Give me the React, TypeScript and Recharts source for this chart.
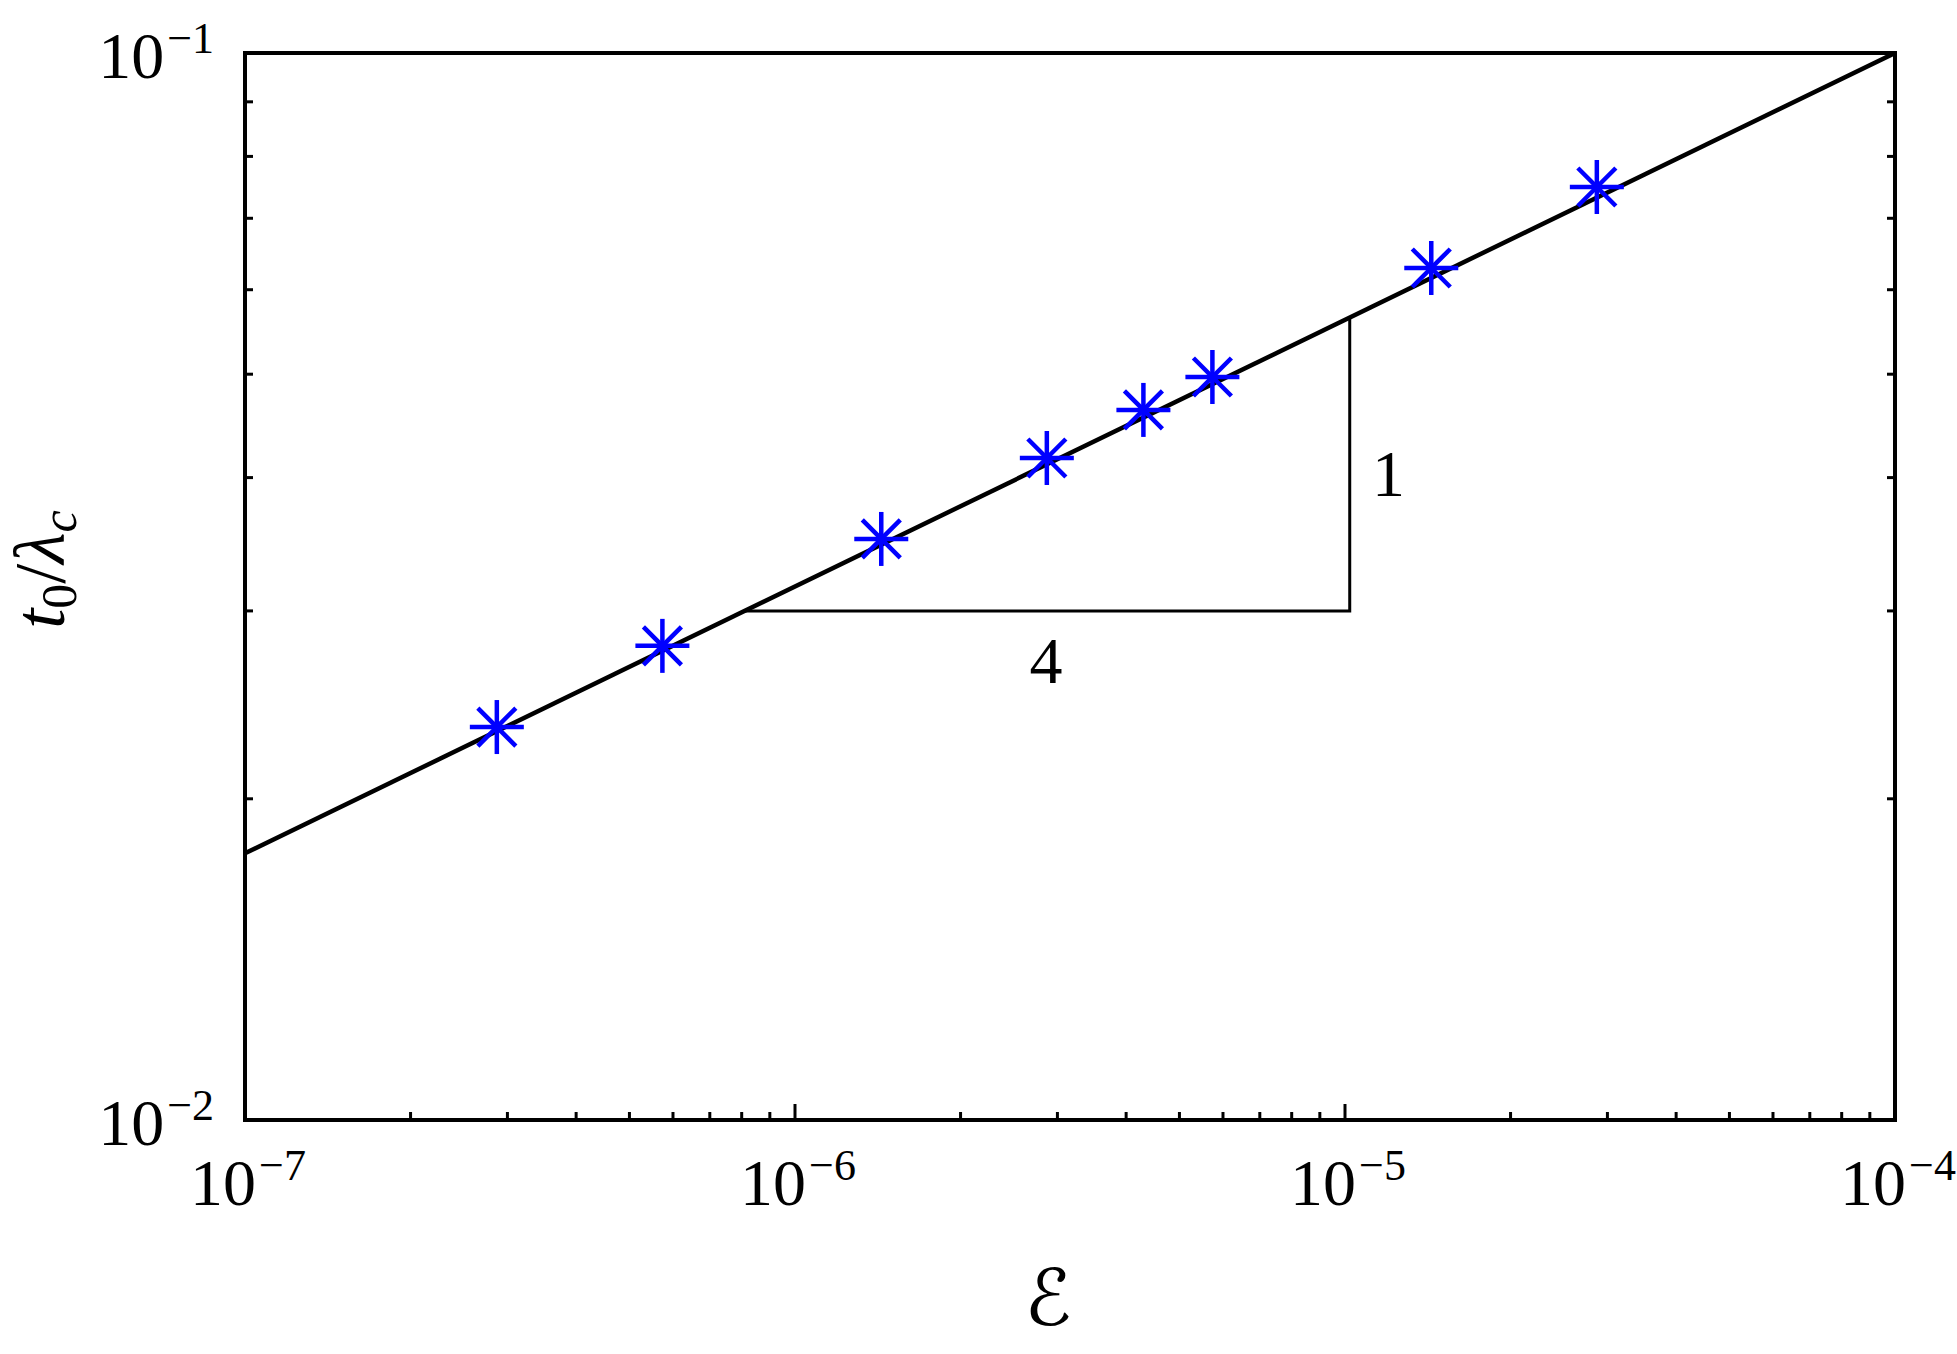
import React from "react";
import { ComposedChart, Scatter, XAxis, YAxis } from "recharts";

// measured points (epsilon, t0/lambda_c)
const epsValues = [2.87e-7, 5.74e-7, 1.435e-6, 2.87e-6, 4.3e-6, 5.74e-6, 1.435e-5, 2.87e-5];
const tValues = [0.02335, 0.02782, 0.03504, 0.04173, 0.04629, 0.0497, 0.06288, 0.07489];

// slope-1/4 fit line end points
const fitEps = [1e-7, 1e-4];
const fitT = [0.01778, 0.1];

// slope triangle corners
const triEps = [8.1e-7, 1.02e-5, 1.02e-5];
const triT = [0.03, 0.03, 0.0565];

// triangle annotations
const noteText = ["1", "4"];
const noteEps = [1.2e-5, 2.86e-6];
const noteT = [0.0403, 0.0269];

const xDecades = [1e-7, 1e-6, 1e-5, 1e-4];
const yDecades = [0.01, 0.1];
const mantissas = [1, 2, 3, 4, 5, 6, 7, 8, 9];

const points = epsValues.map((x, i) => ({ x, y: tValues[i] }));
const fit = fitEps.map((x, i) => ({ x, y: fitT[i] }));
const triangle = triEps.map((x, i) => ({ x, y: triT[i] }));
const notes = noteText.map((text, i) => ({ x: noteEps[i], y: noteT[i], text }));

const buildTicks = (decades: number[]) => {
  const out: number[] = [];
  decades.forEach((d, i) => {
    if (i === decades.length - 1) out.push(d);
    else mantissas.forEach((m) => out.push(+(m * d).toPrecision(3)));
  });
  return out;
};
const xTicks = buildTicks(xDecades);
const yTicks = buildTicks(yDecades);

const FONT = "'Liberation Serif', 'Times New Roman', serif";

const isMajor = (v: number) => {
  const l = Math.log10(v);
  return Math.abs(l - Math.round(l)) < 1e-6;
};

const PowerLabel = ({ x, y, v, anchor }: any) => (
  <text x={x} y={y} textAnchor={anchor} fontFamily={FONT} fontSize={66} fill="#000">
    10
    <tspan fontSize={44} dy={-25} dx={3}>
      {"\u2212" + Math.abs(Math.round(Math.log10(v)))}
    </tspan>
  </text>
);

const XTick = (props: any) => {
  const { x, y, payload, side } = props;
  const v = payload.value;
  const major = isMajor(v);
  const len = major ? 16 : 8;
  const dir = side === "bottom" ? -1 : 1;
  return (
    <g>
      <line x1={x} y1={y} x2={x} y2={y + dir * len} stroke="#000" strokeWidth={3} />
      {side === "bottom" && major && <PowerLabel x={x + 3} y={y + 85} v={v} anchor="middle" />}
    </g>
  );
};

const YTick = (props: any) => {
  const { x, y, payload, side } = props;
  const v = payload.value;
  const major = isMajor(v);
  const len = major ? 16 : 8;
  const dir = side === "left" ? 1 : -1;
  return (
    <g>
      <line x1={x} y1={y} x2={x + dir * len} y2={y} stroke="#000" strokeWidth={3} />
      {side === "left" && major && <PowerLabel x={x - 31} y={y + 25} v={v} anchor="end" />}
    </g>
  );
};

const Asterisk = (props: any) => {
  const { cx, cy } = props;
  const r = 27;
  const d = 19;
  const s = { stroke: "#0000FF", strokeWidth: 4.5 };
  return (
    <g>
      <line x1={cx - r} y1={cy} x2={cx + r} y2={cy} {...s} />
      <line x1={cx} y1={cy - r} x2={cx} y2={cy + r} {...s} />
      <line x1={cx - d} y1={cy - d} x2={cx + d} y2={cy + d} {...s} />
      <line x1={cx - d} y1={cy + d} x2={cx + d} y2={cy - d} {...s} />
    </g>
  );
};

const NoteText = (props: any) => {
  const { cx, cy, payload } = props;
  return (
    <text x={cx} y={cy + 22} textAnchor="middle" fontFamily={FONT} fontSize={66} fill="#000">
      {payload.text}
    </text>
  );
};

const XLabel = (props: any) => {
  const { x, y, width } = props.viewBox;
  return (
    <text
      x={x + width / 2 - 22}
      y={y + 205}
      textAnchor="middle"
      fontFamily="'DejaVu Serif', 'DejaVu Sans', serif"
      fontStyle="italic"
      fontSize={78}
      fill="#000"
    >
      {"\u2130"}
    </text>
  );
};

const YLabel = (props: any) => {
  const { y, height } = props.viewBox;
  const cx = 64;
  const cy = y + height / 2 - 17;
  return (
    <text
      x={cx}
      y={cy}
      transform={`rotate(-90, ${cx}, ${cy})`}
      textAnchor="middle"
      fontFamily={FONT}
      fontSize={72}
      fill="#000"
    >
      <tspan fontStyle="italic">t</tspan>
      <tspan fontSize={50} dy={12}>0</tspan>
      <tspan dy={-12}>/</tspan>
      <tspan fontStyle="italic">{"\u03bb"}</tspan>
      <tspan fontStyle="italic" fontSize={50} dy={12}>c</tspan>
    </text>
  );
};

const App = () => {
  const axisLine = { stroke: "#000", strokeWidth: 4, strokeLinecap: "square" as const };
  return (
    <div style={{ position: "absolute", left: 0, top: 0, background: "#fff" }}>
      <ComposedChart
        width={1957}
        height={1354}
        margin={{ top: 52, right: 61, bottom: 0, left: 0 }}
      >
        <XAxis
          xAxisId="b"
          dataKey="x"
          type="number"
          scale="log"
          domain={[1e-7, 1e-4]}
          allowDataOverflow
          ticks={xTicks}
          interval={0}
          height={234}
          tickSize={0}
          tickMargin={0}
          tickLine={false}
          axisLine={axisLine}
          tick={(p: any) => <XTick {...p} side="bottom" />}
          label={XLabel}
        />
        <XAxis
          xAxisId="t"
          orientation="top"
          type="number"
          scale="log"
          domain={[1e-7, 1e-4]}
          allowDataOverflow
          ticks={xTicks}
          interval={0}
          height={1}
          tickSize={0}
          tickMargin={0}
          tickLine={false}
          axisLine={axisLine}
          tick={(p: any) => <XTick {...p} side="top" />}
        />
        <YAxis
          yAxisId="l"
          dataKey="y"
          type="number"
          scale="log"
          domain={[0.01, 0.1]}
          allowDataOverflow
          ticks={yTicks}
          interval={0}
          width={245}
          tickSize={0}
          tickMargin={0}
          tickLine={false}
          axisLine={axisLine}
          tick={(p: any) => <YTick {...p} side="left" />}
          label={YLabel}
        />
        <YAxis
          yAxisId="r"
          orientation="right"
          type="number"
          scale="log"
          domain={[0.01, 0.1]}
          allowDataOverflow
          ticks={yTicks}
          interval={0}
          width={1}
          tickSize={0}
          tickMargin={0}
          tickLine={false}
          axisLine={axisLine}
          tick={(p: any) => <YTick {...p} side="right" />}
        />
        <Scatter
          xAxisId="b"
          yAxisId="l"
          data={triangle}
          line={{ stroke: "#000", strokeWidth: 3 }}
          shape={() => <g />}
          isAnimationActive={false}
        />
        <Scatter
          xAxisId="b"
          yAxisId="l"
          data={fit}
          line={{ stroke: "#000", strokeWidth: 4.5 }}
          shape={() => <g />}
          isAnimationActive={false}
        />
        <Scatter
          xAxisId="b"
          yAxisId="l"
          data={points}
          shape={Asterisk}
          isAnimationActive={false}
        />
        <Scatter
          xAxisId="b"
          yAxisId="l"
          data={notes}
          shape={NoteText}
          isAnimationActive={false}
        />
      </ComposedChart>
    </div>
  );
};

export default App;
